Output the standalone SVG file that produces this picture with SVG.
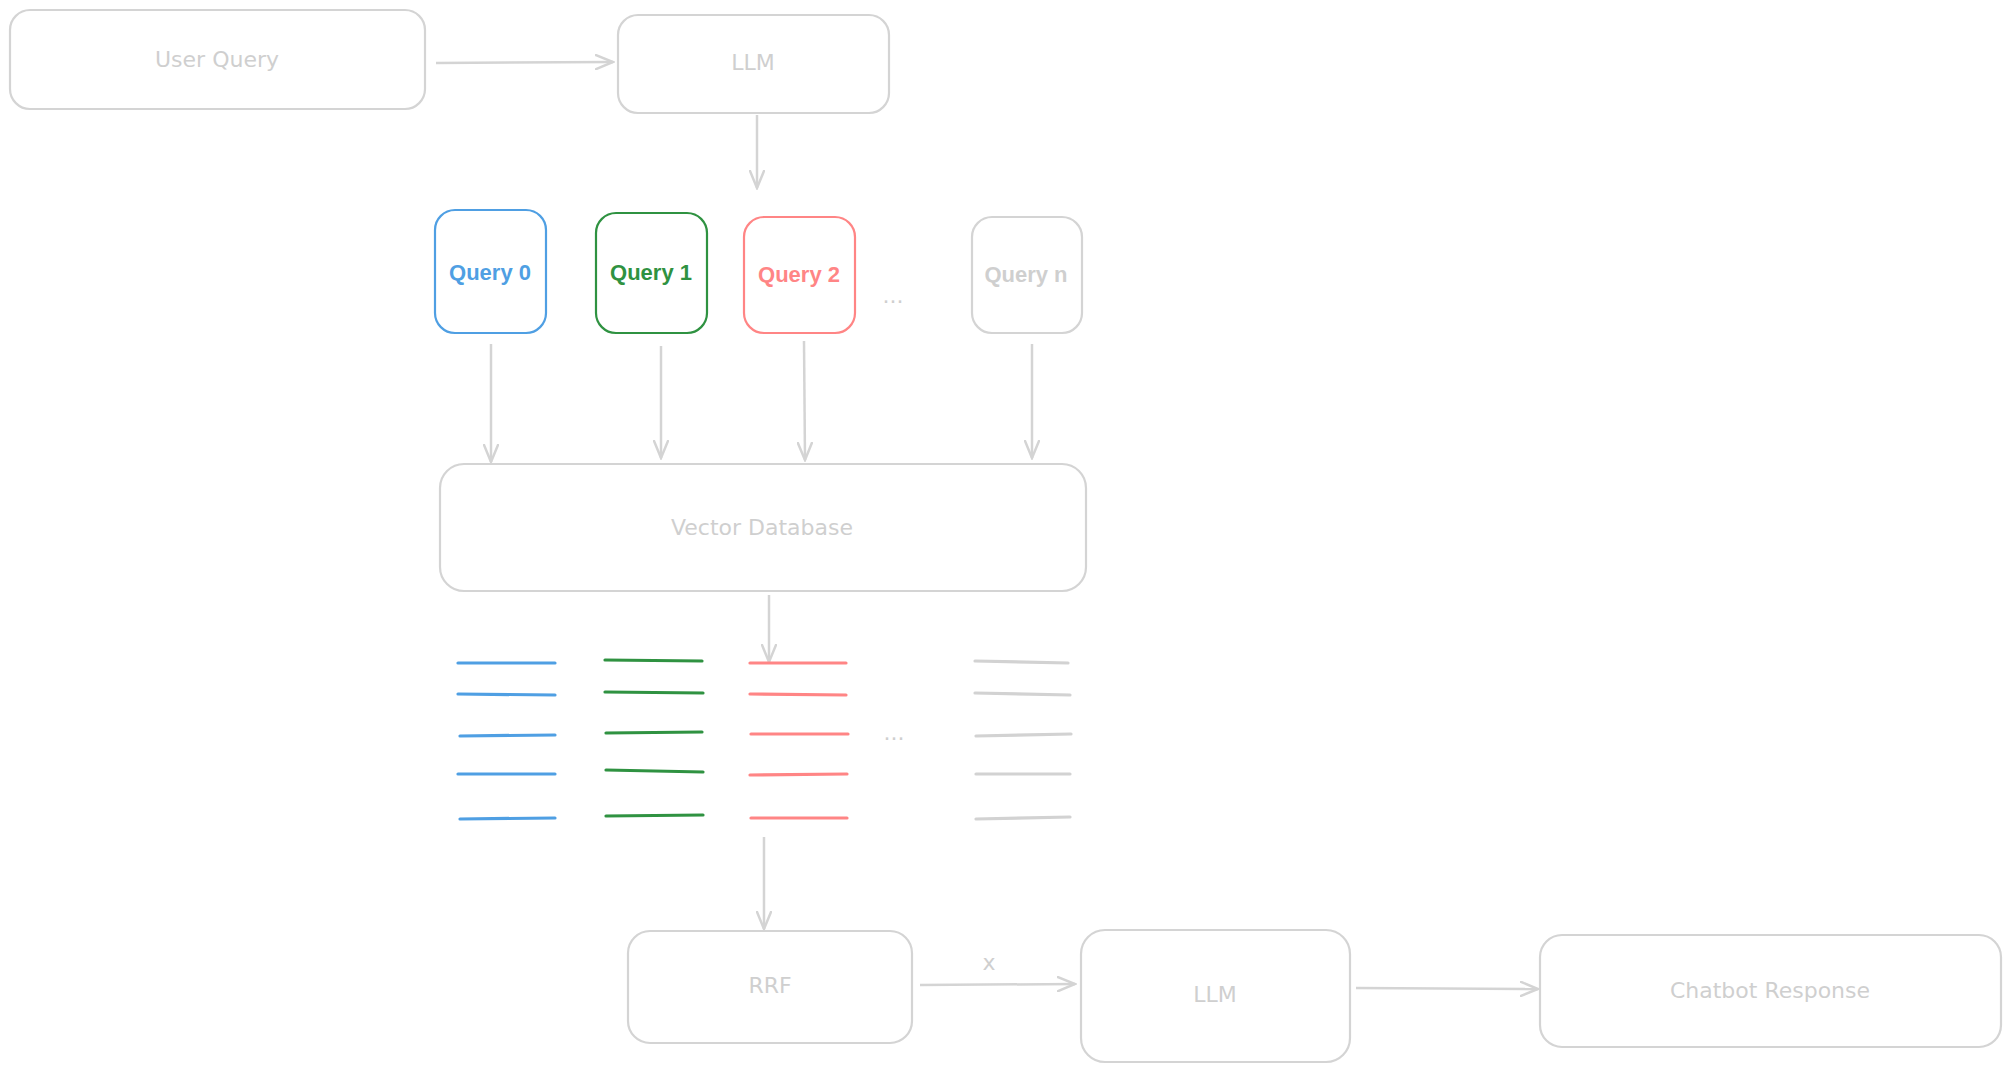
<svg xmlns="http://www.w3.org/2000/svg" width="2011" height="1072" viewBox="0 0 2011 1072">
<style>
.box{fill:#fff;stroke:#d4d4d4;stroke-width:2.2}
.lbl{font-family:"DejaVu Sans","Liberation Sans",Arial,sans-serif;font-size:22px;fill:#cfcfcf;text-anchor:middle;dominant-baseline:central}
.q{font-family:"Liberation Sans",Arial,sans-serif;font-size:22px;font-weight:bold;text-anchor:middle;dominant-baseline:central}
.conn{fill:none;stroke:#d4d4d4;stroke-width:2.5;marker-end:url(#ah)}
.ln{stroke-width:3.2;stroke-linecap:round}
.blue{stroke:#4f9fe3}
.green{stroke:#2f9241}
.red{stroke:#ff8585}
.gray{stroke:#d2d2d2}
</style>
<defs>
<marker id="ah" markerWidth="20" markerHeight="16" refX="18" refY="8" orient="auto" markerUnits="userSpaceOnUse">
<path d="M1,1 L18,8 L1,15" fill="none" stroke="#d4d4d4" stroke-width="2.5" stroke-linecap="round"/>
</marker>
</defs>
<rect width="2011" height="1072" fill="#fff"/>

<g id="connectors">
<path class="conn" d="M436,63 L613,62"/>
<path class="conn" d="M757,115 L757,188"/>
<path class="conn" d="M491,344 L491,462"/>
<path class="conn" d="M661,346 L661,458"/>
<path class="conn" d="M804,341 L805,460"/>
<path class="conn" d="M1032,344 L1032,458"/>
<path class="conn" d="M769,595 L769,662"/>
<path class="conn" d="M764,837 L764,929"/>
<path class="conn" d="M920,985 L1075,984"/>
<path class="conn" d="M1356,988 L1538,989"/>
<text class="lbl" x="989" y="962">x</text>
</g>

<g id="user-query"><rect class="box" x="10" y="10" width="415" height="99" rx="20"/><text class="lbl" x="217" y="59">User Query</text></g>
<g id="llm-1"><rect class="box" x="618" y="15" width="271" height="98" rx="20"/><text class="lbl" x="753" y="62">LLM</text></g>

<g id="query-0"><rect x="435" y="210" width="111" height="123" rx="20" fill="#fff" stroke="#4f9fe3" stroke-width="2.2"/><text class="q" x="490" y="272" fill="#4f9fe3">Query 0</text></g>
<g id="query-1"><rect x="596" y="213" width="111" height="120" rx="20" fill="#fff" stroke="#2f9241" stroke-width="2.2"/><text class="q" x="651" y="272" fill="#2f9241">Query 1</text></g>
<g id="query-2"><rect x="744" y="217" width="111" height="116" rx="20" fill="#fff" stroke="#ff8585" stroke-width="2.2"/><text class="q" x="799" y="274" fill="#ff8585">Query 2</text></g>
<g id="ellipsis-1"><text class="lbl" x="893" y="295">...</text></g>
<g id="query-n"><rect class="box" x="972" y="217" width="110" height="116" rx="20"/><text class="q" x="1026" y="274" fill="#cfcfcf">Query n</text></g>

<g id="vector-db"><rect class="box" x="440" y="464" width="646" height="127" rx="24"/><text class="lbl" x="762" y="527">Vector Database</text></g>

<g id="results-0">
<line class="ln blue" x1="458" y1="663" x2="555" y2="663"/>
<line class="ln blue" x1="458" y1="694" x2="555" y2="695"/>
<line class="ln blue" x1="460" y1="736" x2="555" y2="735"/>
<line class="ln blue" x1="458" y1="774" x2="555" y2="774"/>
<line class="ln blue" x1="460" y1="819" x2="555" y2="818"/>
</g>
<g id="results-1">
<line class="ln green" x1="605" y1="660" x2="702" y2="661"/>
<line class="ln green" x1="605" y1="692" x2="703" y2="693"/>
<line class="ln green" x1="606" y1="733" x2="702" y2="732"/>
<line class="ln green" x1="606" y1="770" x2="703" y2="772"/>
<line class="ln green" x1="606" y1="816" x2="703" y2="815"/>
</g>
<g id="results-2">
<line class="ln red" x1="750" y1="663" x2="846" y2="663"/>
<line class="ln red" x1="750" y1="694" x2="846" y2="695"/>
<line class="ln red" x1="751" y1="734" x2="848" y2="734"/>
<line class="ln red" x1="750" y1="775" x2="847" y2="774"/>
<line class="ln red" x1="751" y1="818" x2="847" y2="818"/>
</g>
<g id="ellipsis-2"><text class="lbl" x="894" y="732">...</text></g>
<g id="results-n">
<line class="ln gray" x1="975" y1="661" x2="1068" y2="663"/>
<line class="ln gray" x1="975" y1="693" x2="1070" y2="695"/>
<line class="ln gray" x1="976" y1="736" x2="1071" y2="734"/>
<line class="ln gray" x1="976" y1="774" x2="1070" y2="774"/>
<line class="ln gray" x1="976" y1="819" x2="1070" y2="817"/>
</g>

<g id="rrf"><rect class="box" x="628" y="931" width="284" height="112" rx="22"/><text class="lbl" x="770" y="985">RRF</text></g>
<g id="llm-2"><rect class="box" x="1081" y="930" width="269" height="132" rx="24"/><text class="lbl" x="1215" y="994">LLM</text></g>
<g id="chatbot-response"><rect class="box" x="1540" y="935" width="461" height="112" rx="22"/><text class="lbl" x="1770" y="990">Chatbot Response</text></g>
</svg>
